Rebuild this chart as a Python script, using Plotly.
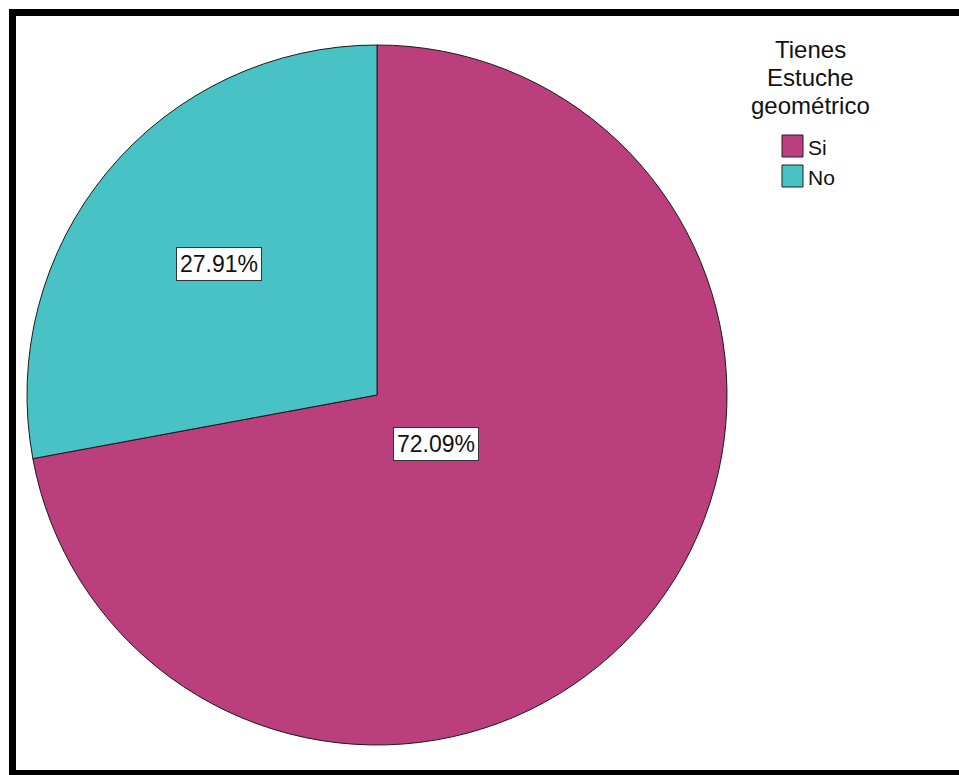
import math
import plotly.graph_objects as go

# Data
categories = ["Si", "No"]
percentages = [72.09, 27.91]
colors = ["#BB3F7D", "#49C2C5"]
legend_title_lines = ["Tienes", "Estuche", "geométrico"]
label_radius_frac = [0.221, 0.587]  # radial position of each boxed percentage label

W, H = 959, 775
FONT = "Liberation Sans, Arial, sans-serif"

# Pie placement in pixels
cx, cy, r = 377, 395, 350


def px(x):
    return x / W


def py(y):
    return 1 - y / H


fig = go.Figure(
    go.Pie(
        labels=categories,
        values=percentages,
        sort=False,
        direction="clockwise",
        rotation=0,
        marker=dict(colors=colors, line=dict(color="#1a1a1a", width=1)),
        textinfo="none",
        hoverinfo="label+percent",
        showlegend=False,
        domain=dict(x=[px(cx - r), px(cx + r)], y=[py(cy + r), py(cy - r)]),
    )
)

annotations = []
shapes = []

# Boxed percentage labels placed along each slice's mid-angle
total = sum(percentages)
start = 0.0
for val, frac in zip(percentages, label_radius_frac):
    mid = start + val / total * 360 / 2
    start += val / total * 360
    a = math.radians(mid)
    lx = cx + frac * r * math.sin(a)
    ly = cy - frac * r * math.cos(a)
    annotations.append(dict(
        x=px(lx), y=py(ly), xref="paper", yref="paper",
        text=f"{val:.2f}%", showarrow=False,
        font=dict(family=FONT, size=23, color="#111"),
        bgcolor="white", bordercolor="#333", borderwidth=1, borderpad=3,
        xanchor="center", yanchor="middle",
    ))

# Legend title, one annotation per line for tight line spacing
for i, line in enumerate(legend_title_lines):
    annotations.append(dict(
        x=px(810), y=py(49 + i * 28), xref="paper", yref="paper",
        text=line, showarrow=False,
        font=dict(family=FONT, size=24, color="#111"),
        xanchor="center", yanchor="middle",
    ))

# Legend entries
for i, (cat, col) in enumerate(zip(categories, colors)):
    top = 135 + i * 30
    shapes.append(dict(
        type="rect", xref="paper", yref="paper",
        x0=px(782), x1=px(803), y0=py(top + 22), y1=py(top),
        fillcolor=col, line=dict(color="#222", width=1),
    ))
    annotations.append(dict(
        x=px(806), y=py(top + 12), xref="paper", yref="paper",
        text=cat, showarrow=False,
        font=dict(family=FONT, size=21, color="#111"),
        xanchor="left", yanchor="middle",
    ))

# Outer frame
shapes.append(dict(
    type="rect", xref="paper", yref="paper",
    x0=px(12.5), x1=px(975), y0=py(773.5), y1=py(12.5),
    line=dict(color="black", width=7), fillcolor="rgba(0,0,0,0)",
))

fig.update_layout(
    width=W, height=H,
    margin=dict(l=0, r=0, t=0, b=0),
    paper_bgcolor="white",
    plot_bgcolor="white",
    annotations=annotations,
    shapes=shapes,
    showlegend=False,
)

fig.write_html("out.html")
